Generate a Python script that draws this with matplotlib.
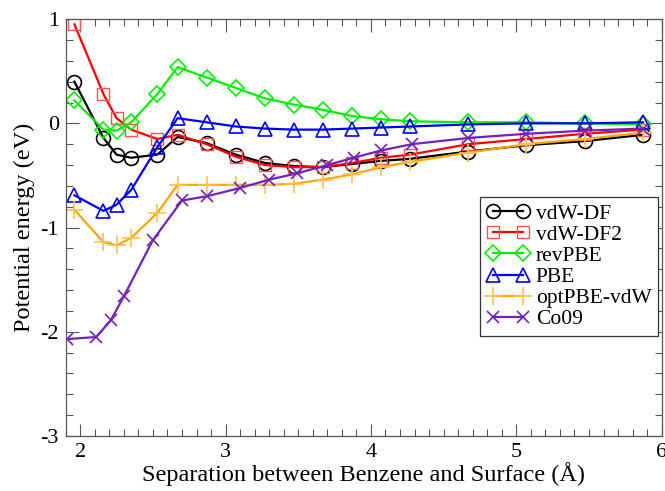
import matplotlib
matplotlib.use("Agg")
import matplotlib.pyplot as plt
from matplotlib.ticker import MultipleLocator

plt.rcParams['font.family'] = ['Liberation Serif', 'DejaVu Serif']
plt.rcParams['axes.unicode_minus'] = False

# separation (Angstrom) used by most of the functionals
sep = [1.96, 2.16, 2.25, 2.35, 2.53, 2.67, 2.87, 3.07, 3.27, 3.47,
       3.67, 3.87, 4.07, 4.27, 4.67, 5.07, 5.47, 5.87]
# Co09 points sit at slightly different separations
sep_co09 = [1.91, 2.11, 2.21, 2.30, 2.50, 2.70, 2.87, 3.10, 3.30, 3.49,
            3.70, 3.88, 4.07, 4.28, 4.67, 5.07, 5.47, 5.87]

vdw_df = [0.40, -0.14, -0.30, -0.33, -0.30, -0.13, -0.19, -0.30, -0.38, -0.41,
          -0.42, -0.39, -0.36, -0.34, -0.27, -0.21, -0.17, -0.11]
vdw_df2 = [0.95, 0.28, 0.05, -0.06, -0.15, -0.11, -0.20, -0.32, -0.40, -0.42,
           -0.42, -0.38, -0.33, -0.30, -0.20, -0.15, -0.10, -0.06]
revpbe = [0.22, -0.06, -0.07, 0.01, 0.28, 0.54, 0.44, 0.34, 0.24, 0.18,
          0.13, 0.07, 0.04, 0.02, 0.01, 0.01, 0.0, -0.01]
pbe = [-0.69, -0.84, -0.78, -0.64, -0.23, 0.05, 0.01, -0.03, -0.05, -0.06,
       -0.06, -0.05, -0.04, -0.03, -0.01, 0.0, 0.0, 0.01]
optpbe_vdw = [-0.83, -1.14, -1.17, -1.10, -0.86, -0.59, -0.59, -0.59, -0.59, -0.58,
              -0.54, -0.49, -0.42, -0.37, -0.28, -0.20, -0.15, -0.09]
co09 = [-2.07, -2.05, -1.89, -1.66, -1.12, -0.74, -0.70, -0.62, -0.54, -0.48,
        -0.40, -0.33, -0.26, -0.20, -0.14, -0.10, -0.07, -0.05]

fig = plt.figure(figsize=(6.65, 4.91), dpi=100)
ax = fig.add_axes([0.0988, 0.112, 0.8962, 0.849])

lw = 1.6
ax.plot(sep, vdw_df, color='black', lw=lw, marker='o', ms=10, mfc='none', mec='black', mew=1.2, label='vdW-DF')
ax.plot(sep, vdw_df2, color='red', lw=lw, marker='s', ms=8.5, mfc='none', mec='#ff5050', mew=1.0, label='vdW-DF2')
ax.plot(sep, revpbe, color='#00ee00', lw=lw, marker='D', ms=8, mfc='none', mec='#00ee00', mew=1.2, label='revPBE')
ax.plot(sep, pbe, color='blue', lw=lw, marker='^', ms=9.5, mfc='none', mec='blue', mew=1.2, label='PBE')
ax.plot(sep, optpbe_vdw, color='orange', lw=lw, marker='+', ms=13, mec='#ffc04c', mew=1.2, label='optPBE-vdW')
ax.plot(sep_co09, co09, color='#7221bc', lw=lw, marker='x', ms=8.5, mec='#7221bc', mew=1.2, label='Co09')

ax.set_xlim(1.9, 6.0)
ax.set_ylim(-3, 1)
ax.xaxis.set_major_locator(MultipleLocator(1))
ax.xaxis.set_minor_locator(MultipleLocator(0.1))
ax.yaxis.set_major_locator(MultipleLocator(1))
ax.yaxis.set_minor_locator(MultipleLocator(0.2))
ax.tick_params(which='both', direction='in', top=True, right=True, labelsize=16, color='#555555')
ax.tick_params(which='major', length=9, width=0.8, pad=5)
ax.tick_params(which='minor', length=5, width=0.8)
for s in ax.spines.values():
    s.set_color('#555555')
    s.set_linewidth(0.9)

ax.set_xlabel('Separation between Benzene and Surface (Å)', fontsize=17.5, labelpad=0)
ax.set_ylabel('Potential energy (eV)', fontsize=17.5, labelpad=4)

leg = ax.legend(loc='upper right', bbox_to_anchor=(0.994, 0.573), fontsize=15.5,
                frameon=True, fancybox=False, framealpha=1, edgecolor='#333333',
                handlelength=2.0, handletextpad=0.3, labelspacing=0.05, borderpad=0.3,
                borderaxespad=0, numpoints=2)
leg.get_frame().set_linewidth(0.9)

fig.savefig('out.png', dpi=100)
